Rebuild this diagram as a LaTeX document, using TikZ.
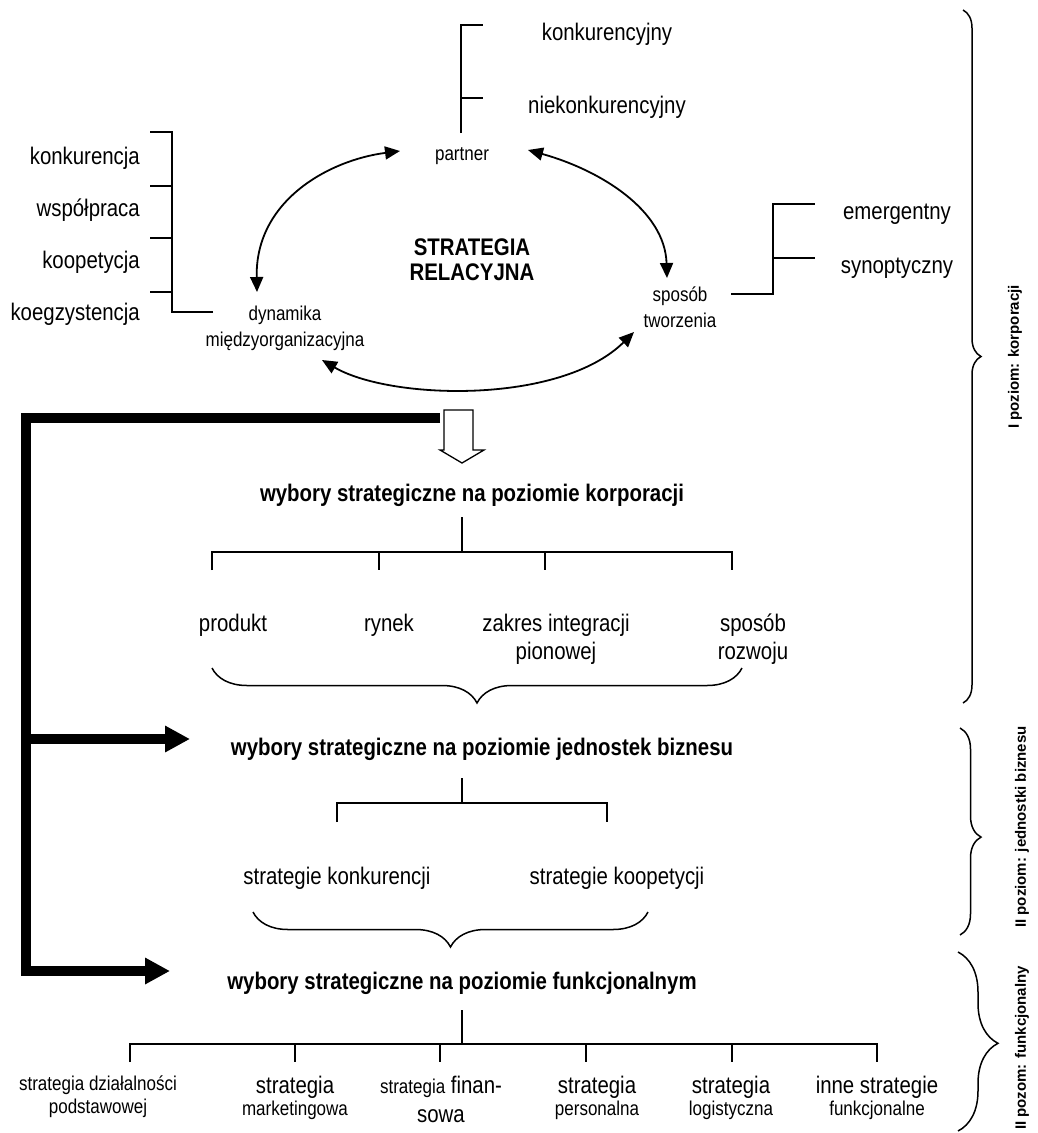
\documentclass[tikz,border=0pt]{standalone}
\usepackage{fontspec}
\setmainfont{Liberation Sans}[FakeStretch=0.85]
\newfontfamily\sidefont{Liberation Sans}
\usetikzlibrary{arrows.meta,decorations.pathreplacing}

\begin{document}
\begin{tikzpicture}[x=1pt,y=-1pt,
  lbl/.style={anchor=base,inner sep=0pt,font=\fontsize{24}{28}\selectfont},
  sml/.style={anchor=base,inner sep=0pt,font=\fontsize{20}{24}\selectfont},
  head/.style={anchor=base,inner sep=0pt,font=\fontsize{24}{28}\selectfont\bfseries},
  side/.style={inner sep=0pt,rotate=90,font=\sidefont\fontsize{15}{18}\selectfont\bfseries},
  twig/.style={line width=1.5pt},
  curv/.style={line width=1.8pt,{Triangle[length=15pt,width=13pt]}-{Triangle[length=15pt,width=13pt]}},
  feed/.style={line width=10pt,-{Triangle[length=25pt,width=25pt]}},
  brc/.style={decorate,decoration={brace,amplitude=#1},line width=1.5pt},
]
\useasboundingbox (0,0) rectangle (1038,1133);
\fill[white] (0,0) rectangle (1038,1133);

% ---------- relational strategy cycle ----------
\node[head] (sr1) at (472,255) {STRATEGIA};
\node[head] (sr2) at (472,280) {RELACYJNA};

\node[sml] (partner) at (462,160) {partner};
\node[sml] (dyn1) at (285,320) {dynamika};
\node[sml] (dyn2) at (285,346) {międzyorganizacyjna};
\node[sml] (spo1) at (680,301) {sposób};
\node[sml] (spo2) at (680,327) {tworzenia};

\coordinate (pL) at (400,151);
\coordinate (pR) at (528,150);
\coordinate (dT) at (257,292);
\coordinate (dB) at (322,360);
\coordinate (sT) at (667,278);
\coordinate (sB) at (634,332);

\draw[curv] (pL) .. controls (330,160) and (255,200) .. (dT);
\draw[curv] (pR) .. controls (600,170) and (665,210) .. (sT);
\draw[curv] (dB) .. controls (390,400) and (560,405) .. (sB);

% partner types
\node[lbl] (konk) at (607,40) {konkurencyjny};
\node[lbl] (niek) at (607,113) {niekonkurencyjny};
\coordinate (pt0) at (461,133);
\coordinate (pt1) at (461,25);
\coordinate (pt2) at (461,98);
\draw[twig] (pt0) -- (pt1) -- ++(22,0);
\draw[twig] (pt2) -- ++(22,0);

% dynamics types
\node[lbl,anchor=base east] (d1) at (140,164) {konkurencja};
\node[lbl,anchor=base east] (d2) at (140,216) {współpraca};
\node[lbl,anchor=base east] (d3) at (140,268) {koopetycja};
\node[lbl,anchor=base east] (d4) at (140,320) {koegzystencja};
\coordinate (dk) at (172,312);
\draw[twig] (213,312) -- (dk) -- (172,132) -- (150,132);
\foreach \yy in {186,238,292} \draw[twig] (172,\yy) -- (150,\yy);

% creation modes
\node[lbl] (em) at (897,219) {emergentny};
\node[lbl] (sy) at (897,273) {synoptyczny};
\coordinate (sk) at (773,294);
\draw[twig] (731,294) -- (sk) -- (773,204) -- (815,204);
\draw[twig] (773,258) -- (815,258);

% ---------- hollow arrow and feedback line ----------
\draw[line width=1.3pt,fill=white]
  (444,410) -- (473,410) -- (473,450) -- (484,450) -- (462,463)
  -- (440,450) -- (444,450) -- cycle;

\coordinate (fb0) at (440,418);
\coordinate (fbc) at (26,418);
\coordinate (fbm) at (26,739);
\coordinate (fbb) at (26,971);
\coordinate (tgt2) at (190,739);
\coordinate (tgt3) at (170,971);
\draw[feed] (fb0) -- (fbc) -- (fbb) -- (tgt3);
\draw[feed] (fbm) -- (tgt2);

% ---------- corporate level ----------
\node[head] (h1) at (472,501) {wybory strategiczne na poziomie korporacji};
\draw[twig] (462,517) -- (462,552);
\draw[twig] (212,570) -- (212,552) -- (732,552) -- (732,570);
\draw[twig] (379,552) -- (379,570);
\draw[twig] (545,552) -- (545,570);

\node[lbl] (c1) at (233,631) {produkt};
\node[lbl] (c2) at (389,631) {rynek};
\node[lbl] (c3a) at (556,631) {zakres integracji};
\node[lbl] (c3b) at (556,659) {pionowej};
\node[lbl] (c4a) at (753,631) {sposób};
\node[lbl] (c4b) at (753,659) {rozwoju};
\draw[brc=35] (742,668) -- (212,668);

% ---------- business unit level ----------
\node[head] (h2) at (482,755) {wybory strategiczne na poziomie jednostek biznesu};
\draw[twig] (462,778) -- (462,803);
\draw[twig] (337,822) -- (337,803) -- (607,803) -- (607,822);
\node[lbl] (b1) at (337,884) {strategie konkurencji};
\node[lbl] (b2) at (617,884) {strategie koopetycji};
\draw[brc=35] (648,912) -- (253,912);

% ---------- functional level ----------
\node[head] (h3) at (462,989) {wybory strategiczne na poziomie funkcjonalnym};
\draw[twig] (462,1010) -- (462,1044);
\draw[twig] (130,1062) -- (130,1044) -- (877,1044) -- (877,1062);
\foreach \xx in {295,440,586,732} \draw[twig] (\xx,1044) -- (\xx,1062);

\node[sml] (f1a) at (98,1090) {strategia działalności};
\node[sml] (f1b) at (98,1113) {podstawowej};
\node[lbl] (f2a) at (295,1093) {strategia};
\node[sml] (f2b) at (295,1115) {marketingowa};
\node[lbl] (f3a) at (441,1093) {{\fontsize{20}{24}\selectfont strategia} finan-};
\node[lbl] (f3b) at (441,1122) {sowa};
\node[lbl] (f4a) at (597,1093) {strategia};
\node[sml] (f4b) at (597,1115) {personalna};
\node[lbl] (f5a) at (731,1093) {strategia};
\node[sml] (f5b) at (731,1115) {logistyczna};
\node[lbl] (f6a) at (877,1093) {inne strategie};
\node[sml] (f6b) at (877,1115) {funkcjonalne};

% ---------- level braces ----------
\draw[brc=18] (963,10) -- (963,703);
\node[side] (lv1) at (1015,357) {I poziom: korporacji};
\draw[brc=21,decoration={aspect=0.527}] (960,728) -- (960,935);
\node[side] (lv2) at (1022,827) {II poziom: jednostki biznesu};
\draw[brc=40,decoration={aspect=0.51}] (958,952) -- (958,1131);
\node[side] (lv3) at (1022,1048) {II pozom: funkcjonalny};
\end{tikzpicture}
\end{document}
